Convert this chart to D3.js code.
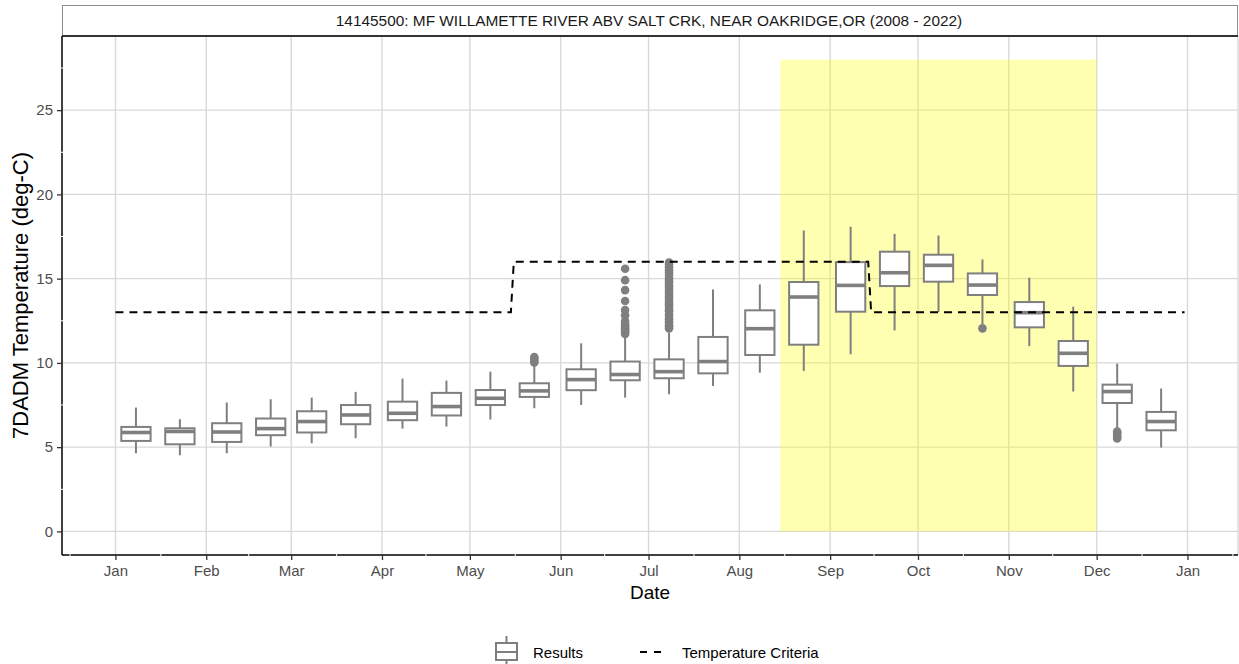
<!DOCTYPE html>
<html><head><meta charset="utf-8">
<script src="https://cdn.jsdelivr.net/npm/d3@7"></script>
<style>body{margin:0;background:#fff;} svg{display:block;font-family:"Liberation Sans",Arial,Helvetica,sans-serif;}</style>
</head><body><svg id="chart" width="1239" height="664"></svg>
<script>
// ---------- data ----------
const stripTitle = "14145500: MF WILLAMETTE RIVER ABV SALT CRK, NEAR OAKRIDGE,OR (2008 - 2022)";
const yTitle = "7DADM Temperature (deg-C)";
const xTitle = "Date";
const legendLabels = ["Results", "Temperature Criteria"];

const boxDates = ["2020-01-08","2020-01-23","2020-02-08","2020-02-23","2020-03-08","2020-03-23",
  "2020-04-08","2020-04-23","2020-05-08","2020-05-23","2020-06-08","2020-06-23",
  "2020-07-08","2020-07-23","2020-08-08","2020-08-23","2020-09-08","2020-09-23",
  "2020-10-08","2020-10-23","2020-11-08","2020-11-23","2020-12-08","2020-12-23"];
const whiskerLow = [4.64,4.52,4.64,5.04,5.23,5.53,6.10,6.22,6.64,7.31,7.50,7.94,8.14,8.63,9.42,9.52,10.51,11.93,13.02,12.29,11.00,8.30,6.06,4.98];
const q1 =         [5.37,5.17,5.31,5.71,5.87,6.36,6.60,6.88,7.50,7.98,8.38,8.97,9.09,9.38,10.47,11.08,13.04,14.56,14.82,14.03,12.11,9.82,7.62,6.00];
const medians =    [5.87,5.93,5.90,6.10,6.52,6.91,7.01,7.41,7.90,8.34,9.01,9.31,9.48,10.08,12.03,13.91,14.60,15.35,15.79,14.62,12.98,10.57,8.30,6.52];
const q3 =         [6.20,6.12,6.42,6.70,7.13,7.50,7.70,8.22,8.39,8.79,9.62,10.08,10.21,11.54,13.12,14.80,15.98,16.60,16.42,15.31,13.61,11.30,8.71,7.09];
const whiskerHigh= [7.35,6.66,7.65,7.84,7.94,8.28,9.07,8.95,9.48,9.85,11.16,11.50,11.80,14.36,14.66,17.86,18.08,17.66,17.56,16.14,15.06,13.34,9.96,8.48];
const outliers = [[],[],[],[],[],[],[],[],[],
  [10.02,10.12,10.25,10.35],
  [],
  [11.72,11.8,11.91,11.99,12.08,12.19,12.3,12.48,12.82,13.14,13.67,14.32,14.91,15.59],
  [12.05,12.18,12.27,12.41,12.55,12.62,12.78,12.9,13.06,13.17,13.33,13.48,13.6,13.74,13.9,14.03,14.2,14.33,14.47,14.6,14.78,14.92,15.05,15.22,15.36,15.5,15.67,15.81,15.95],
  [],[],[],[],[],[],
  [12.05],
  [],[],
  [5.52,5.61,5.72,5.85,5.92],
  []];

const criteriaDates  = ["2020-01-01","2020-05-15","2020-05-16","2020-09-14","2020-09-15","2020-12-31"];
const criteriaValues = [13,13,16,16,13,13];

const highlightStart = "2020-08-15", highlightEnd = "2020-12-01";
const highlightRange = [0, 28];

const yTicks = [0,5,10,15,20,25];

// ---------- layout ----------
const parse = d3.timeParse("%Y-%m-%d");
const svg = d3.select("#chart");
const P = {left:62, right:1238, top:36, bottom:555};
const DAY = 864e5;

const cDates = criteriaDates.map(parse);
const xLo = d3.min(cDates), xHi = d3.max(cDates);
const xSpan = xHi - xLo;
const x = d3.scaleTime()
  .domain([new Date(+xLo - 0.05*xSpan), new Date(+xHi + 0.05*xSpan)])
  .range([P.left, P.right]);
const yLo = highlightRange[0], yHi = highlightRange[1];
const y = d3.scaleLinear()
  .domain([yLo - 0.05*(yHi-yLo), yHi + 0.05*(yHi-yLo)])
  .range([P.bottom, P.top]);

const gridColor = "#d9d9d9";
const boxColor = "#7f7f7f";

// major gridlines
const monthTicks = x.ticks(d3.timeMonth.every(1));
svg.append("g").selectAll("line.vx").data(monthTicks).join("line")
  .attr("x1", d => x(d)).attr("x2", d => x(d))
  .attr("y1", P.top).attr("y2", P.bottom)
  .attr("stroke", gridColor).attr("stroke-width", 1.4);
svg.append("g").selectAll("line.hy").data(yTicks).join("line")
  .attr("x1", P.left).attr("x2", P.right)
  .attr("y1", d => y(d)).attr("y2", d => y(d))
  .attr("stroke", gridColor).attr("stroke-width", 1.4);

// right border of panel (light)
svg.append("line").attr("x1", P.right).attr("x2", P.right).attr("y1", P.top).attr("y2", P.bottom)
  .attr("stroke", "#c8c8c8").attr("stroke-width", 1);

// highlight rect
svg.append("rect")
  .attr("x", x(parse(highlightStart)))
  .attr("width", x(parse(highlightEnd)) - x(parse(highlightStart)))
  .attr("y", y(highlightRange[1]))
  .attr("height", y(highlightRange[0]) - y(highlightRange[1]))
  .attr("fill", "yellow").attr("fill-opacity", 0.3);

// boxes
const halfW = 5 * DAY;
const boxes = boxDates.map((d, i) => ({
  date: parse(d), lo: whiskerLow[i], q1: q1[i], med: medians[i], q3: q3[i], hi: whiskerHigh[i], out: outliers[i]
}));
const gB = svg.append("g");
boxes.forEach(b => {
  const cx = x(b.date);
  const x0 = x(new Date(+b.date - halfW)), x1 = x(new Date(+b.date + halfW));
  const g = gB.append("g");
  g.append("line").attr("x1", cx).attr("x2", cx).attr("y1", y(b.hi)).attr("y2", y(b.q3))
    .attr("stroke", boxColor).attr("stroke-width", 2);
  g.append("line").attr("x1", cx).attr("x2", cx).attr("y1", y(b.q1)).attr("y2", y(b.lo))
    .attr("stroke", boxColor).attr("stroke-width", 2);
  g.append("rect").attr("x", x0).attr("width", x1 - x0)
    .attr("y", y(b.q3)).attr("height", y(b.q1) - y(b.q3))
    .attr("fill", "#fff").attr("stroke", boxColor).attr("stroke-width", 2);
  g.append("line").attr("x1", x0).attr("x2", x1).attr("y1", y(b.med)).attr("y2", y(b.med))
    .attr("stroke", boxColor).attr("stroke-width", 3.6);
  g.selectAll("circle").data(b.out).join("circle")
    .attr("cx", cx).attr("cy", v => y(v)).attr("r", 4.3).attr("fill", boxColor);
});

// criteria line
const line = d3.line().x(d => x(d[0])).y(d => y(d[1]));
svg.append("path")
  .datum(cDates.map((d, i) => [d, criteriaValues[i]]))
  .attr("d", line).attr("fill", "none").attr("stroke", "#000")
  .attr("stroke-width", 2).attr("stroke-dasharray", "8,6");

// strip
svg.append("rect").attr("x", P.left + 0.5).attr("y", 5.5).attr("width", P.right - P.left - 1).attr("height", P.top - 5.5)
  .attr("fill", "#fff").attr("stroke", "#8c8c8c").attr("stroke-width", 1);
svg.append("line").attr("x1", P.left).attr("x2", P.right).attr("y1", P.top).attr("y2", P.top)
  .attr("stroke", "#333").attr("stroke-width", 2);
svg.append("text").attr("x", (P.left + P.right) / 2 - 1).attr("y", 26)
  .attr("text-anchor", "middle").attr("font-size", 15.4).attr("fill", "#1a1a1a").text(stripTitle);

// axis lines
svg.append("line").attr("x1", P.left).attr("x2", P.left).attr("y1", P.top).attr("y2", P.bottom)
  .attr("stroke", "#000").attr("stroke-width", 1.5);
svg.append("line").attr("x1", P.left).attr("x2", P.right).attr("y1", P.bottom).attr("y2", P.bottom)
  .attr("stroke", "#000").attr("stroke-width", 1.5);

// minor gaps (white minor grid crossing axis lines)
const minorX = [];
const mt = d3.timeMonth.range(d3.timeMonth.offset(x.domain()[0], -1), d3.timeMonth.offset(x.domain()[1], 2));
for (let i = 0; i < mt.length - 1; i++) {
  const m = new Date((+mt[i] + +mt[i+1]) / 2);
  if (m >= x.domain()[0] && m <= x.domain()[1]) minorX.push(m);
}
svg.append("g").selectAll("line").data(minorX).join("line")
  .attr("x1", d => x(d)).attr("x2", d => x(d)).attr("y1", P.bottom - 1).attr("y2", P.bottom + 1)
  .attr("stroke", "#fff").attr("stroke-width", 1);
const minorY = d3.range(0, yTicks.length).map(i => yTicks[i] + 2.5).filter(v => v < y.domain()[1]);
svg.append("g").selectAll("line").data(minorY).join("line")
  .attr("x1", P.left - 1).attr("x2", P.left + 1).attr("y1", d => y(d)).attr("y2", d => y(d))
  .attr("stroke", "#fff").attr("stroke-width", 1);

// axes
const xAxis = d3.axisBottom(x).tickValues(monthTicks).tickFormat(d3.timeFormat("%b")).tickSize(5).tickPadding(5);
const gx = svg.append("g").attr("transform", `translate(0,${P.bottom})`).call(xAxis);
gx.select(".domain").remove();
gx.selectAll("line").attr("stroke", "#333").attr("stroke-width", 1.3);
gx.selectAll("text").attr("font-size", 15).attr("fill", "#4d4d4d").attr("font-family", "Liberation Sans, Arial, sans-serif");

const yAxis = d3.axisLeft(y).tickValues(yTicks).tickSize(5).tickPadding(4);
const gy = svg.append("g").attr("transform", `translate(${P.left},0)`).call(yAxis);
gy.select(".domain").remove();
gy.selectAll("line").attr("stroke", "#333").attr("stroke-width", 1.3);
gy.selectAll("text").attr("font-size", 15).attr("fill", "#4d4d4d").attr("font-family", "Liberation Sans, Arial, sans-serif");

// titles
svg.append("text").attr("x", (P.left + P.right) / 2).attr("y", 599)
  .attr("text-anchor", "middle").attr("font-size", 19).attr("fill", "#000").text(xTitle);
svg.append("text").attr("transform", `translate(28,${(P.top + P.bottom) / 2}) rotate(-90)`)
  .attr("text-anchor", "middle").attr("font-size", 22).attr("fill", "#000").text(yTitle);

// legend
const lg = svg.append("g");
const ly = 652;
// box key
lg.append("line").attr("x1", 506.5).attr("x2", 506.5).attr("y1", 636).attr("y2", 643).attr("stroke", boxColor).attr("stroke-width", 2);
lg.append("line").attr("x1", 506.5).attr("x2", 506.5).attr("y1", 660).attr("y2", 664).attr("stroke", boxColor).attr("stroke-width", 2);
lg.append("rect").attr("x", 496).attr("y", 643).attr("width", 21).attr("height", 17)
  .attr("fill", "#fff").attr("stroke", boxColor).attr("stroke-width", 2);
lg.append("line").attr("x1", 496).attr("x2", 517).attr("y1", ly).attr("y2", ly).attr("stroke", boxColor).attr("stroke-width", 2);
lg.append("text").attr("x", 533).attr("y", ly + 5.5).attr("font-size", 15).attr("fill", "#000").text(legendLabels[0]);
// dashed key
lg.append("line").attr("x1", 640).attr("x2", 664).attr("y1", ly).attr("y2", ly)
  .attr("stroke", "#000").attr("stroke-width", 2).attr("stroke-dasharray", "7,7");
lg.append("text").attr("x", 682).attr("y", ly + 5.5).attr("font-size", 15).attr("fill", "#000").text(legendLabels[1]);
</script>
</body></html>
